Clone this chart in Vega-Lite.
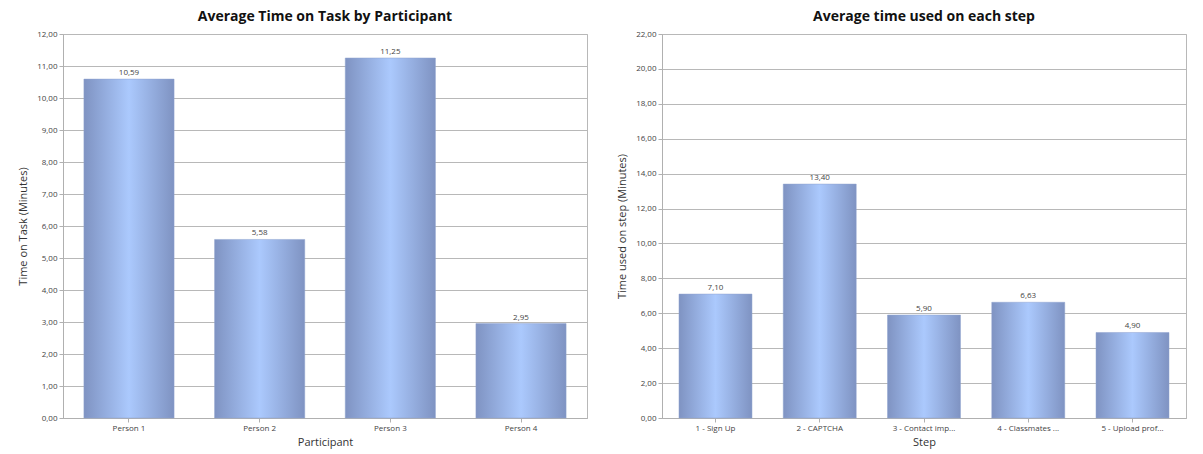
{
  "$schema": "https://vega.github.io/schema/vega-lite/v6.json",
  "background": "white",
  "padding": {"left": 17, "top": 9, "right": 10, "bottom": 4},
  "datasets": {
    "participants": [
      {"participant": "Person 1", "time": 10.59},
      {"participant": "Person 2", "time": 5.58},
      {"participant": "Person 3", "time": 11.25},
      {"participant": "Person 4", "time": 2.95}
    ],
    "steps": [
      {"step": "1 - Sign Up", "time": 7.10},
      {"step": "2 - CAPTCHA", "time": 13.40},
      {"step": "3 - Contact imp...", "time": 5.90},
      {"step": "4 - Classmates ...", "time": 6.63},
      {"step": "5 - Upload prof...", "time": 4.90}
    ]
  },
  "config": {
    "locale": {"number": {"decimal": ",", "thousands": ".", "grouping": [3], "currency": ["", " €"]}},
    "font": "Open Sans",
    "view": {"stroke": "#b8b8b8", "strokeWidth": 1},
    "title": {"font": "Open Sans", "fontSize": 14, "fontWeight": "bold", "color": "#111111", "offset": 6},
    "axis": {
      "labelFont": "Open Sans", "labelFontSize": 8, "labelColor": "#444444", "labelOverlap": false,
      "titleFont": "Open Sans", "titleFontSize": 11, "titleFontWeight": "normal", "titleColor": "#333333",
      "domainColor": "#b0b0b0", "tickColor": "#b0b0b0", "gridColor": "#b8b8b8", "tickSize": 4
    },
    "concat": {"spacing": 28}
  },
  "hconcat": [
    {
      "title": "Average Time on Task by Participant",
      "width": 524,
      "height": 384,
      "data": {"name": "participants"},
      "encoding": {
        "x": {"field": "participant", "type": "nominal", "sort": null,
          "scale": {"paddingInner": 0.31, "paddingOuter": 0.16},
          "axis": {"title": "Participant", "labelAngle": 0, "titlePadding": 4}},
        "y": {"field": "time", "type": "quantitative",
          "scale": {"domain": [0, 12], "nice": false},
          "axis": {"title": "Time on Task (Minutes)", "values": [0,1,2,3,4,5,6,7,8,9,10,11,12], "format": ".2f", "titlePadding": 8}}
      },
      "layer": [
        {
          "mark": {"type": "bar", "stroke": "#8fa3cf", "strokeWidth": 0.5,
            "color": {"gradient": "linear", "x1": 0, "y1": 0, "x2": 1, "y2": 0,
              "stops": [{"offset": 0, "color": "#7f93c2"}, {"offset": 0.5, "color": "#abc9fd"}, {"offset": 1, "color": "#7f93c2"}]}}
        },
        {
          "mark": {"type": "text", "dy": -6, "fontSize": 8, "color": "#444444"},
          "encoding": {
            "text": {"field": "time", "type": "quantitative", "format": ".2f"}
          }
        }
      ]
    },
    {
      "title": "Average time used on each step",
      "width": 524,
      "height": 384,
      "data": {"name": "steps"},
      "encoding": {
        "x": {"field": "step", "type": "nominal", "sort": null,
          "scale": {"paddingInner": 0.3, "paddingOuter": 0.163},
          "axis": {"title": "Step", "labelAngle": 0, "titlePadding": 4}},
        "y": {"field": "time", "type": "quantitative",
          "scale": {"domain": [0, 22], "nice": false},
          "axis": {"title": "Time used on step (Minutes)", "values": [0,2,4,6,8,10,12,14,16,18,20,22], "format": ".2f", "titlePadding": 8}}
      },
      "layer": [
        {
          "mark": {"type": "bar", "stroke": "#8fa3cf", "strokeWidth": 0.5,
            "color": {"gradient": "linear", "x1": 0, "y1": 0, "x2": 1, "y2": 0,
              "stops": [{"offset": 0, "color": "#7f93c2"}, {"offset": 0.5, "color": "#abc9fd"}, {"offset": 1, "color": "#7f93c2"}]}}
        },
        {
          "mark": {"type": "text", "dy": -6, "fontSize": 8, "color": "#444444"},
          "encoding": {
            "text": {"field": "time", "type": "quantitative", "format": ".2f"}
          }
        }
      ]
    }
  ]
}
